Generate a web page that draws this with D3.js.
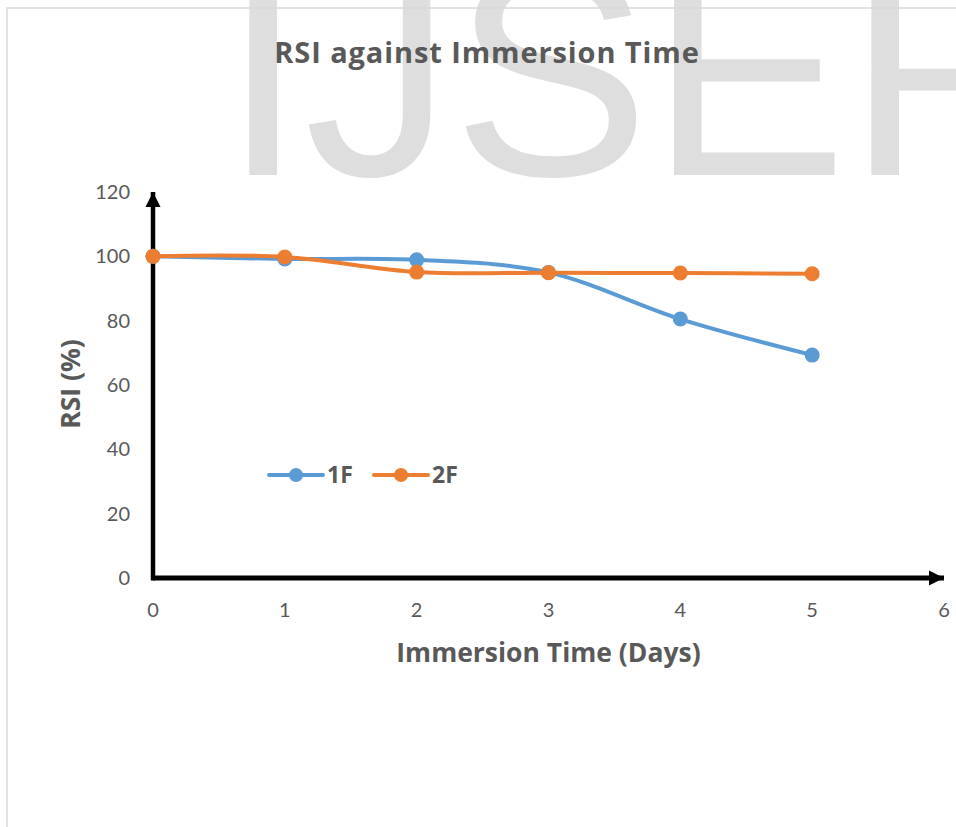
<html>
<head>
<style>
  body { margin: 0; background: #fff; }
  text { font-family: "Open Sans", Lato, sans-serif; }
</style>
</head>
<body>
<svg id="chart"></svg>
<script src="https://d3js.org/d3.v7.min.js"></script>
<script>
// data
var days = [0, 1, 2, 3, 4, 5];
var rsi1F = [100, 99.2, 98.9, 95, 80.5, 69.3];
var rsi2F = [100, 99.8, 95.1, 94.9, 94.8, 94.6];
var seriesNames = ["1F", "2F"];
var seriesColors = ["#5B9BD5", "#ED7D31"];
var xTicks = [0, 1, 2, 3, 4, 5, 6];
var yTicks = [0, 20, 40, 60, 80, 100, 120];

var W = 956, H = 827;
var svg = d3.select("#chart").attr("width", W).attr("height", H);

// watermark behind everything
svg.append("text")
  .attr("x", 222).attr("y", 175)
  .style("font-family", "'Liberation Sans', Arial, sans-serif")
  .style("font-size", "296px")
  .attr("fill", "#dedede")
  .text("IJSER");

// chart area border (only top and left show in the crop)
svg.append("rect")
  .attr("x", 7).attr("y", 8)
  .attr("width", 1000).attr("height", 900)
  .attr("fill", "none")
  .attr("stroke", "#d9d9d9")
  .attr("stroke-width", 1.5);

var x = d3.scaleLinear().domain([0, 6]).range([153, 944]);
var y = d3.scaleLinear().domain([0, 120]).range([578, 192]);

var textColor = "#595959";

// title
svg.append("text")
  .attr("x", 487).attr("y", 63)
  .attr("text-anchor", "middle")
  .attr("fill", textColor)
  .style("font-size", "29px").style("font-weight", "bold")
  .style("letter-spacing", "0.9px")
  .text("RSI against Immersion Time");

// tick labels
svg.append("g").selectAll("text")
  .data(yTicks).enter().append("text")
  .attr("x", 130).attr("y", function(d) { return y(d); })
  .attr("dy", "0.35em")
  .attr("text-anchor", "end")
  .attr("fill", textColor)
  .style("font-family", "Lato, sans-serif")
  .style("font-size", "20px")
  .text(function(d) { return d; });

svg.append("g").selectAll("text")
  .data(xTicks).enter().append("text")
  .attr("x", function(d) { return x(d); }).attr("y", 617)
  .attr("text-anchor", "middle")
  .attr("fill", textColor)
  .style("font-family", "Lato, sans-serif")
  .style("font-size", "20px")
  .text(function(d) { return d; });

// axis titles
svg.append("text")
  .attr("x", x(3)).attr("y", 662)
  .attr("text-anchor", "middle")
  .attr("fill", textColor)
  .style("font-size", "26.5px").style("font-weight", "bold")
  .text("Immersion Time (Days)");

svg.append("text")
  .attr("transform", "translate(80," + 384 + ") rotate(-90)")
  .attr("text-anchor", "middle")
  .attr("fill", textColor)
  .style("font-size", "26.5px").style("font-weight", "bold")
  .text("RSI (%)");

// axes with arrow heads
var defs = svg.append("defs");
defs.append("marker")
  .attr("id", "arrow")
  .attr("viewBox", "0 0 10 10")
  .attr("refX", 10).attr("refY", 5)
  .attr("markerUnits", "userSpaceOnUse")
  .attr("markerWidth", 15).attr("markerHeight", 16)
  .attr("orient", "auto")
  .append("path").attr("d", "M0,0 L10,5 L0,10 Z").attr("fill", "#000");

svg.append("line")
  .attr("x1", x(0)).attr("y1", y(0))
  .attr("x2", x(6)).attr("y2", y(0))
  .attr("stroke", "#000").attr("stroke-width", 5)
  .attr("marker-end", "url(#arrow)");
svg.append("line")
  .attr("x1", x(0)).attr("y1", y(0) + 2.5)
  .attr("x2", x(0)).attr("y2", y(120))
  .attr("stroke", "#000").attr("stroke-width", 4.5)
  .attr("marker-end", "url(#arrow)");

// series
var line = d3.line()
  .x(function(d) { return x(d[0]); })
  .y(function(d) { return y(d[1]); })
  .curve(d3.curveCardinal.tension(0));

[rsi1F, rsi2F].forEach(function(vals, i) {
  var pts = days.map(function(d, j) { return [d, vals[j]]; });
  svg.append("path")
    .attr("d", line(pts))
    .attr("fill", "none")
    .attr("stroke", seriesColors[i])
    .attr("stroke-width", 4)
    .attr("stroke-linecap", "round");
  svg.append("g").selectAll("circle")
    .data(pts).enter().append("circle")
    .attr("cx", function(d) { return x(d[0]); })
    .attr("cy", function(d) { return y(d[1]); })
    .attr("r", 7.5)
    .attr("fill", seriesColors[i]);
});

// legend
var legendX = [269, 374];
seriesNames.forEach(function(name, i) {
  var g = svg.append("g").attr("transform", "translate(" + legendX[i] + ",475)");
  g.append("line")
    .attr("x1", 0).attr("x2", 54)
    .attr("stroke", seriesColors[i]).attr("stroke-width", 4)
    .attr("stroke-linecap", "round");
  g.append("circle").attr("cx", 27).attr("r", 7).attr("fill", seriesColors[i]);
  g.append("text")
    .attr("x", 58).attr("y", 8)
    .attr("fill", textColor)
    .style("font-size", "23px").style("font-weight", "bold")
    .text(name);
});
</script>
</body>
</html>
